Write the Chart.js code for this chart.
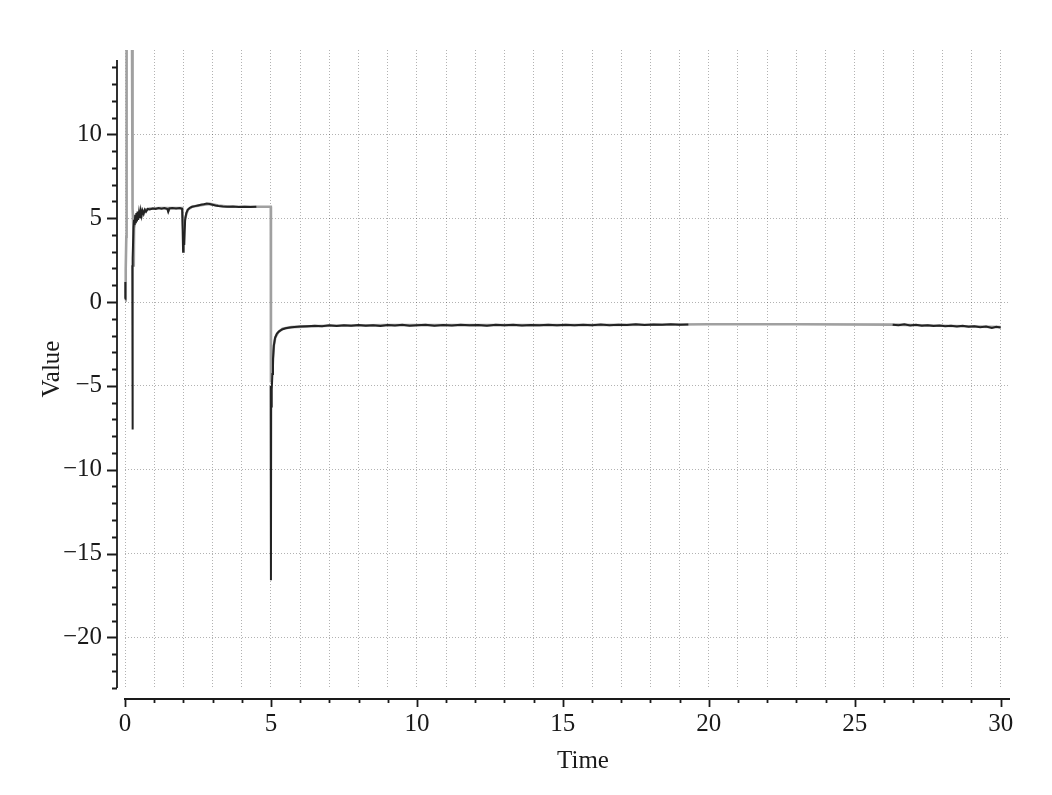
<!DOCTYPE html>
<html>
<head>
<meta charset="utf-8">
<script src="https://cdn.jsdelivr.net/npm/chart.js@4/dist/chart.umd.min.js"></script>
<style>
  html, body { margin: 0; padding: 0; background: #fff; }
</style>
</head>
<body>
<canvas id="myChart" width="1052" height="795"></canvas>
<script>
// smooth trace (light grey)
const refTime = [0, 0.025, 0.045, 0.055, 0.24, 0.248, 0.27, 0.29, 0.3, 0.31, 0.36, 0.5, 0.7, 0.85, 1.2, 1.46, 1.49, 1.53, 1.96, 2.0, 2.06, 2.15, 2.3, 2.6, 2.9, 3.2, 3.6, 4.995, 5.0, 5.06, 5.1, 5.15, 5.25, 5.4, 5.7, 6.3, 7, 9, 12, 15, 18, 20, 23, 26.3, 28, 30];
const refValue = [0.1, 2.0, 3.9, 16, 16, 6.0, 5.6, 4.3, 2.1, 4.4, 4.9, 5.25, 5.5, 5.57, 5.6, 5.6, 5.45, 5.6, 5.6, 4.2, 5.0, 5.5, 5.68, 5.78, 5.85, 5.75, 5.68, 5.68, -4.8, -3.8, -2.6, -2.1, -1.8, -1.6, -1.5, -1.45, -1.42, -1.38, -1.38, -1.38, -1.36, -1.33, -1.33, -1.35, -1.42, -1.5];

// noisy trace (dark), null = gap
const measTime = [
  0, 0.008, 0.016, 0.02,
  0.25, 0.258, 0.266, 0.29, 0.31, 0.33, 0.35, 0.37, 0.39, 0.41, 0.43, 0.45, 0.48, 0.51, 0.54, 0.57, 0.6, 0.64, 0.68, 0.72, 0.78, 0.85, 0.95, 1.05, 1.15, 1.25, 1.35, 1.45, 1.48, 1.52, 1.62, 1.75, 1.88, 1.96, 1.99, 2.01, 2.03, 2.06, 2.1, 2.15, 2.22, 2.3, 2.4, 2.5, 2.6, 2.7, 2.8, 2.9, 3.0, 3.1, 3.2, 3.35, 3.5, 3.7, 3.9, 4.1, 4.3, 4.5, 4.6,
  4.99, 5.0, 5.008, 5.02, 5.035, 5.05, 5.07, 5.1, 5.14, 5.2, 5.28, 5.38, 5.5, 5.65, 5.8, 6.0, 6.25, 6.5, 6.75, 7.0, 7.25, 7.5, 7.75, 8.0, 8.25, 8.5, 8.75, 9.0, 9.25, 9.5, 9.75, 10.0, 10.3, 10.6, 10.9, 11.2, 11.5, 11.8, 12.1, 12.4, 12.7, 13.0, 13.3, 13.6, 13.9, 14.2, 14.5, 14.8, 15.1, 15.4, 15.7, 16.0, 16.3, 16.6, 16.9, 17.2, 17.5, 17.8, 18.1, 18.4, 18.7, 19.0, 19.3, 19.5,
  26.3, 26.5, 26.7, 26.9, 27.1, 27.3, 27.5, 27.7, 27.9, 28.1, 28.3, 28.5, 28.7, 28.9, 29.1, 29.3, 29.5, 29.7, 29.85, 30.0
];
const measValue = [
  0.2, 1.2, 0.5, null,
  2.2, -7.6, 2.6, 4.4, 4.9, 4.6, 5.2, 4.7, 5.3, 4.8, 5.4, 4.9, 5.35, 5.0, 5.45, 5.15, 5.45, 5.25, 5.5, 5.38, 5.55, 5.52, 5.58, 5.55, 5.6, 5.57, 5.6, 5.55, 5.38, 5.58, 5.6, 5.58, 5.6, 5.55, 3.0, 4.1, 3.4, 4.9, 5.3, 5.5, 5.62, 5.68, 5.72, 5.76, 5.8, 5.83, 5.87, 5.84, 5.8, 5.76, 5.73, 5.7, 5.68, 5.7, 5.66, 5.68, 5.66, 5.68, null,
  -5.0, -16.6, -5.9, -6.3, -5.2, -4.3, -3.4, -2.6, -2.15, -1.9, -1.75, -1.64, -1.57, -1.52, -1.49, -1.46, -1.44, -1.42, -1.45, -1.39, -1.43, -1.38, -1.42, -1.37, -1.41, -1.38, -1.43, -1.37, -1.4, -1.36, -1.41, -1.38, -1.36, -1.41, -1.37, -1.4, -1.35, -1.39, -1.37, -1.41, -1.36, -1.39, -1.35, -1.4, -1.37, -1.39, -1.35, -1.38, -1.36, -1.39, -1.35, -1.38, -1.34, -1.38, -1.35, -1.37, -1.33, -1.37, -1.34, -1.36, -1.33, -1.36, -1.34, null,
  -1.35, -1.39, -1.33, -1.4, -1.36, -1.42, -1.38, -1.43, -1.4, -1.45, -1.41, -1.46, -1.42, -1.47, -1.44, -1.5, -1.46, -1.55, -1.48, -1.52
];

const xLabels = [0, 5, 10, 15, 20, 25, 30];
const yLabels = [-20, -15, -10, -5, 0, 5, 10];

const serif = "'Liberation Serif', 'DejaVu Serif', serif";
const ink = '#1a1a1a';
const dotted = 'rgba(0,0,0,0.3)';

function fmt(v) {
  return v < 0 ? '\u2212' + Math.abs(v) : String(v);
}

function toPoints(ts, vs) {
  return ts.map((t, i) => ({ x: t, y: vs[i] }));
}

// axis lines sit a little away from the plot, like the original figure
const detachedAxes = {
  id: 'detachedAxes',
  afterDraw(chart) {
    const { ctx, chartArea, scales: { x, y } } = chart;
    ctx.save();
    ctx.strokeStyle = ink;
    ctx.lineWidth = 1.8;

    const ax = chartArea.left - 8;
    ctx.beginPath();
    ctx.moveTo(ax, y.getPixelForValue(14.43));
    ctx.lineTo(ax, chartArea.bottom);
    y.ticks.forEach(t => {
      const py = Math.round(y.getPixelForValue(t.value)) + 0.5;
      ctx.moveTo(ax, py);
      ctx.lineTo(ax - (t.value % 5 === 0 ? 10 : 5), py);
    });
    ctx.stroke();

    const ay = chartArea.bottom + 11;
    ctx.beginPath();
    ctx.moveTo(x.getPixelForValue(0) - 1, ay);
    ctx.lineTo(chartArea.right, ay);
    x.ticks.forEach(t => {
      const px = Math.round(x.getPixelForValue(t.value)) + 0.5;
      ctx.moveTo(px, ay);
      ctx.lineTo(px, ay + (t.value % 5 === 0 ? 8 : 4));
    });
    ctx.stroke();

    ctx.fillStyle = ink;
    ctx.font = '25px ' + serif;
    ctx.textAlign = 'center';
    ctx.textBaseline = 'middle';
    ctx.fillText('Time', 583, 761);
    ctx.restore();
  }
};

new Chart(document.getElementById('myChart'), {
  type: 'line',
  data: {
    datasets: [
      {
        label: 'measured',
        data: toPoints(measTime, measValue),
        borderColor: '#232323',
        borderWidth: 2,
        pointRadius: 0,
        tension: 0,
        spanGaps: false,
        clip: { left: 4, top: 0, right: 4, bottom: 4 }
      },
      {
        label: 'reference',
        data: toPoints(refTime, refValue),
        borderColor: '#a0a0a0',
        borderWidth: 2.6,
        pointRadius: 0,
        tension: 0,
        clip: { left: 4, top: 0, right: 4, bottom: 4 }
      }
    ]
  },
  options: {
    responsive: false,
    animation: false,
    devicePixelRatio: 1,
    layout: { padding: { top: 50, right: 42, left: 0, bottom: 0 } },
    plugins: { legend: { display: false }, tooltip: { enabled: false } },
    scales: {
      x: {
        type: 'linear',
        min: 0,
        max: 30.32,
        afterFit: s => { s.height = 107; },
        afterBuildTicks: s => {
          const ticks = [];
          for (let i = 0; i <= 30; i++) ticks.push({ value: i });
          s.ticks = ticks;
        },
        grid: { color: dotted, lineWidth: 1, drawTicks: false },
        border: { display: false, dash: [1, 2] },
        ticks: {
          autoSkip: false,
          maxRotation: 0,
          padding: 21,
          color: ink,
          font: { family: serif, size: 25 },
          callback: v => xLabels.includes(v) ? fmt(v) : ''
        }
      },
      y: {
        min: -23.02,
        max: 15.03,
        afterFit: s => { s.width = 125; },
        afterBuildTicks: s => {
          const ticks = [];
          for (let i = -23; i <= 14; i++) ticks.push({ value: i });
          s.ticks = ticks;
        },
        grid: {
          color: c => (c.tick && c.tick.value % 5 === 0) ? dotted : 'rgba(0,0,0,0)',
          lineWidth: 1,
          drawTicks: false
        },
        border: { display: false, dash: [1, 2] },
        ticks: {
          autoSkip: false,
          padding: 23,
          color: ink,
          font: { family: serif, size: 25 },
          callback: v => yLabels.includes(v) ? fmt(v) : ''
        },
        title: {
          display: true,
          text: 'Value',
          color: ink,
          font: { family: serif, size: 25 },
          padding: { top: 37, bottom: 0 }
        }
      }
    }
  },
  plugins: [detachedAxes]
});
</script>
</body>
</html>
